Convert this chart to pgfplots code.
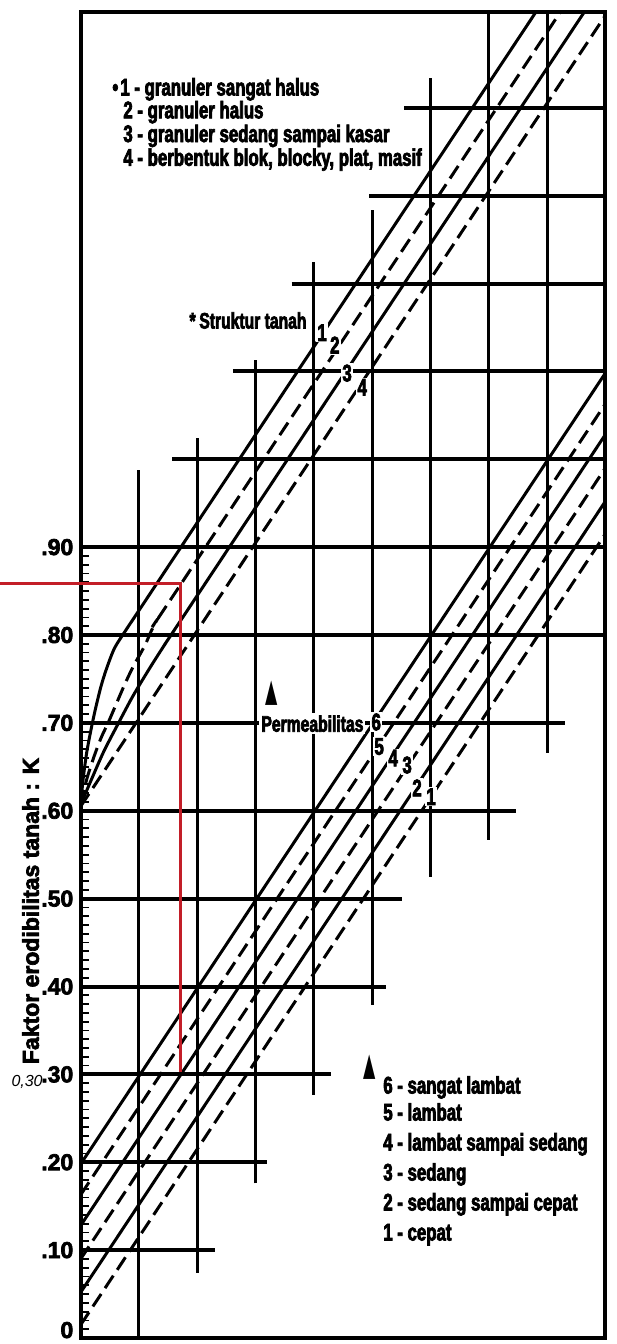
\documentclass[border=0pt]{standalone}
\usepackage{fontspec}
\setmainfont{Liberation Sans}
\newfontfamily\cf{Liberation Sans Bold}[FakeStretch=0.70, FakeBold=3]
\newfontfamily\tf{Liberation Sans Bold}[FakeBold=3]
\newfontfamily\sym{DejaVu Sans}
\usepackage{pgfplots}
\pgfplotsset{compat=1.18}
\definecolor{redline}{RGB}{195,30,40}
\newcommand\lf{\cf\fontsize{12}{13}\selectfont}
\newcommand\tkf{\tf\fontsize{11.5}{13}\selectfont}
\pgfplotsset{
  hl/.style={black, line width=2pt, line cap=butt},
  vl/.style={black, line width=1.5pt, line cap=butt},
  dg/.style={black, line width=1.5pt},
  dd/.style={black, line width=1.5pt, dash pattern=on 7.5pt off 3.5pt},
}
\tikzset{lab/.style={font=\lf, inner sep=0.6pt, fill=white}}
\begin{document}
\begin{tikzpicture}
\useasboundingbox (0,0) rectangle (308pt,672pt);
\begin{axis}[
  at={(40.35pt,3pt)}, anchor=south west,
  scale only axis, width=262.3pt, height=663pt,
  xmin=0, xmax=9, ymin=0, ymax=1.509,
  axis line style={black, line width=2pt},
  xtick=\empty,
  ytick={0,0.1,0.2,0.3,0.4,0.5,0.6,0.7,0.8,0.9},
  yticklabels={,.10,.20,.30,.40,.50,.60,.70,.80,.90},
  extra y ticks={0.009},
  extra y tick labels={0},
  extra y tick style={major tick length=0pt},
  minor y tick num=9,
  major tick length=4pt,
  minor tick length=4pt,
  tick align=inside,
  ytick pos=left,
  major tick style={black, line width=0.9pt},
  minor tick style={black, line width=0.9pt},
  yticklabel style={font=\tkf, inner sep=0pt, xshift=-3.5pt},
  clip=false,
]
% horizontal grid lines
\addplot[hl] coordinates {(0,0.1) (2.30,0.1)};
\addplot[hl] coordinates {(0,0.2) (3.20,0.2)};
\addplot[hl] coordinates {(0,0.3) (4.30,0.3)};
\addplot[hl] coordinates {(0,0.4) (5.24,0.4)};
\addplot[hl] coordinates {(0,0.5) (5.51,0.5)};
\addplot[hl] coordinates {(0,0.6) (7.47,0.6)};
\addplot[hl] coordinates {(0,0.7) (8.31,0.7)};
\addplot[hl] coordinates {(0,0.8) (9,0.8)};
\addplot[hl] coordinates {(0,0.9) (9,0.9)};
\addplot[hl] coordinates {(1.57,1.0) (9,1.0)};
\addplot[hl] coordinates {(2.61,1.1) (9,1.1)};
\addplot[hl] coordinates {(3.62,1.2) (9,1.2)};
\addplot[hl] coordinates {(4.95,1.3) (9,1.3)};
\addplot[hl] coordinates {(5.55,1.4) (9,1.4)};
% vertical grid lines
\addplot[vl] coordinates {(1,0) (1,0.988)};
\addplot[vl] coordinates {(2,0.074) (2,1.024)};
\addplot[vl] coordinates {(3,0.176) (3,1.113)};
\addplot[vl] coordinates {(4,0.277) (4,1.224)};
\addplot[vl] coordinates {(5,0.379) (5,1.284)};
\addplot[vl] coordinates {(6,0.525) (6,1.434)};
\addplot[vl] coordinates {(7,0.567) (7,1.509)};
\addplot[vl] coordinates {(8,0.666) (8,1.509)};
% structure lines (upper group)
\addplot[dg, smooth, tension=0.5] coordinates {(0,0.607) (0.04,0.635) (0.1,0.665) (0.17,0.69) (0.25,0.715) (0.35,0.742) (0.45,0.763) (0.58,0.785) (0.75,0.803) (0.95,0.823) (1.5,0.878) (7.81,1.509)};
\addplot[dd, smooth, tension=0.5] coordinates {(0,0.607) (0.1,0.635) (0.22,0.66) (0.35,0.683) (0.47,0.70) (0.6,0.72) (0.75,0.743) (0.9,0.764) (1.1,0.788) (1.3,0.816) (1.8,0.866) (8.23,1.509)};
\addplot[dg, smooth, tension=0.5] coordinates {(0,0.607) (0.2,0.638) (0.4,0.668) (0.65,0.70) (0.9,0.731) (1.2,0.764) (1.5,0.795) (2,0.845) (8.64,1.509)};
\addplot[dd] coordinates {(0,0.605) (9,1.505)};
% permeability lines (lower group)
\addplot[dg] coordinates {(0,0.198) (9,1.098)};
\addplot[dd] coordinates {(0,0.163) (9,1.063)};
\addplot[dg] coordinates {(0,0.128) (9,1.028)};
\addplot[dd] coordinates {(0,0.090) (9,0.990)};
\addplot[dg] coordinates {(0,0.052) (9,0.952)};
\addplot[dd] coordinates {(0,0.015) (9,0.915)};
% red reading line
\addplot[redline, line width=1.4pt] coordinates {(-1.39,0.859) (1.707,0.859) (1.707,0.303)};
% texts
\node[lab, anchor=base west, inner sep=1pt, font=\cf\fontsize{11.2}{13}\selectfont] at (axis cs:3.06,0.690) {Permeabilitas};
\node at (axis cs:3.27,0.734) {\scalebox{0.8}[1.6]{\sym ▲}};
% line labels
\node[lab] at (axis cs:4.14,1.144) {1};
\node[lab] at (axis cs:4.36,1.130) {2};
\node[lab] at (axis cs:4.57,1.098) {3};
\node[lab] at (axis cs:4.83,1.082) {4};
\node[lab] at (axis cs:5.07,0.701) {6};
\node[lab] at (axis cs:5.12,0.673) {5};
\node[lab] at (axis cs:5.36,0.660) {4};
\node[lab] at (axis cs:5.60,0.652) {3};
\node[lab] at (axis cs:5.77,0.626) {2};
\node[lab] at (axis cs:6.01,0.616) {1};
\node[font=\cf\fontsize{11.2}{13}\selectfont, anchor=base west, inner sep=0pt] at (axis cs:1.86,1.1488) {*\,Struktur tanah};
\node[font=\lf, anchor=base west, inner sep=0pt] at (axis cs:0.537,1.414) {•};
\node[font=\lf, anchor=base west, inner sep=0pt] at (axis cs:0.674,1.414) {1 - granuler sangat halus};
\node[font=\lf, anchor=base west, inner sep=0pt] at (axis cs:0.726,1.388) {2 - granuler halus};
\node[font=\lf, anchor=base west, inner sep=0pt] at (axis cs:0.726,1.361) {3 - granuler sedang sampai kasar};
\node[font=\lf, anchor=base west, inner sep=0pt] at (axis cs:0.726,1.334) {4 - berbentuk blok, blocky, plat, masif};
\node at (axis cs:4.963,0.3084) {\scalebox{0.8}[1.6]{\sym ▲}};
\node[font=\lf, anchor=base west, inner sep=0pt] at (axis cs:5.185,0.2782) {6 - sangat lambat};
\node[font=\lf, anchor=base west, inner sep=0pt] at (axis cs:5.185,0.2475) {5 - lambat};
\node[font=\lf, anchor=base west, inner sep=0pt] at (axis cs:5.185,0.2134) {4 - lambat sampai sedang};
\node[font=\lf, anchor=base west, inner sep=0pt] at (axis cs:5.185,0.1792) {3 - sedang};
\node[font=\lf, anchor=base west, inner sep=0pt] at (axis cs:5.185,0.1451) {2 - sedang sampai cepat};
\node[font=\lf, anchor=base west, inner sep=0pt] at (axis cs:5.185,0.1110) {1 - cepat};
\node[font=\tkf, rotate=90, inner sep=0pt] at (axis cs:-0.86,0.486) {Faktor erodibilitas tanah : K};
\node[font=\itshape\fontsize{8}{9}\selectfont, inner sep=0pt] at (axis cs:-0.92,0.291) {0,30};
\end{axis}
\end{tikzpicture}
\end{document}
